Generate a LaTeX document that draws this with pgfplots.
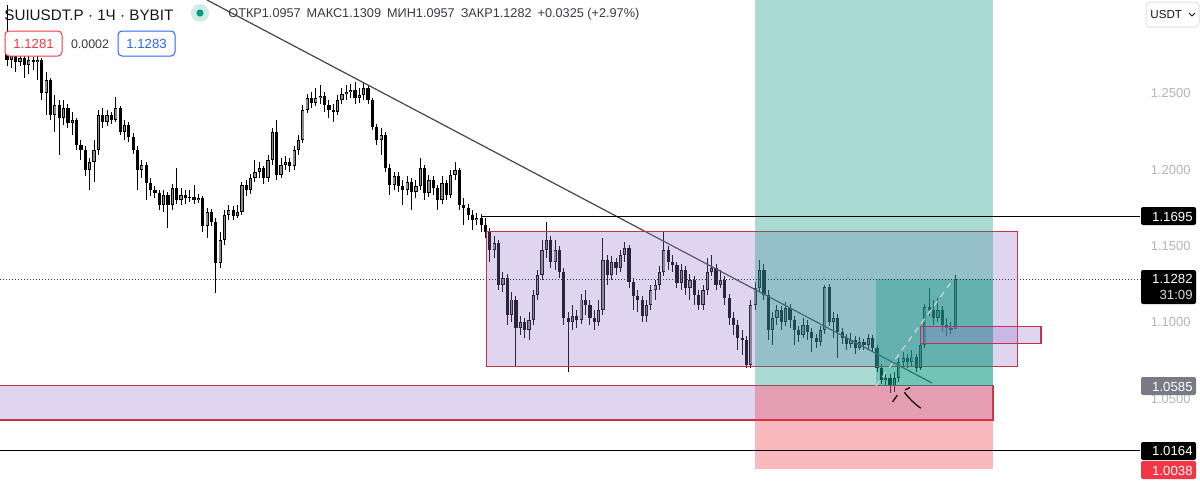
\documentclass[border=0pt]{standalone}
\usepackage{fontspec}
\setmainfont{Liberation Sans}
\usepackage{pgfplots}
\usepackage{pgfplotstable}
\pgfplotsset{compat=1.18}
\definecolor{tvgreen}{RGB}{8,153,129}
\definecolor{tvred}{RGB}{242,54,69}
\definecolor{tvblue}{RGB}{41,98,255}
\definecolor{boxpurple}{RGB}{149,117,205}
\definecolor{boxborder}{RGB}{200,50,70}
\definecolor{tvdark}{RGB}{19,23,34}
\definecolor{tvtext}{RGB}{54,58,69}
\definecolor{tvaxis}{RGB}{178,181,190}
\definecolor{tvgrey}{RGB}{120,123,134}
\definecolor{upgrey}{RGB}{140,140,140}
\definecolor{trend}{RGB}{70,70,70}

\pgfplotstableread{
i o h l c
0 1.2817 1.3078 1.2679 1.2718
1 1.2718 1.2817 1.2666 1.2751
2 1.2751 1.2784 1.2640 1.2705
3 1.2705 1.2771 1.2679 1.2731
4 1.2731 1.2758 1.2601 1.2686
5 1.2686 1.2745 1.2627 1.2718
6 1.2718 1.2738 1.2653 1.2705
7 1.2705 1.2745 1.2587 1.2718
8 1.2718 1.2731 1.2457 1.2502
9 1.2502 1.2640 1.2358 1.2587
10 1.2587 1.2601 1.2326 1.2358
11 1.2358 1.2489 1.2247 1.2424
12 1.2424 1.2457 1.2097 1.2339
13 1.2339 1.2457 1.2293 1.2404
14 1.2404 1.2430 1.2273 1.2306
15 1.2306 1.2378 1.2228 1.2326
16 1.2326 1.2339 1.2129 1.2162
17 1.2162 1.2195 1.2064 1.2129
18 1.2129 1.2156 1.1959 1.1998
19 1.1998 1.2077 1.1868 1.2051
20 1.2051 1.2195 1.1920 1.2129
21 1.2129 1.2391 1.2097 1.2358
22 1.2358 1.2404 1.2273 1.2313
23 1.2313 1.2391 1.2286 1.2358
24 1.2358 1.2378 1.2300 1.2326
25 1.2326 1.2476 1.2313 1.2404
26 1.2404 1.2417 1.2228 1.2247
27 1.2247 1.2326 1.2195 1.2293
28 1.2293 1.2313 1.2182 1.2214
29 1.2214 1.2241 1.2103 1.2129
30 1.2129 1.2156 1.1868 1.1998
31 1.1998 1.2064 1.1946 1.2031
32 1.2031 1.2051 1.1802 1.1913
33 1.1913 1.1946 1.1828 1.1868
34 1.1868 1.1894 1.1815 1.1848
35 1.1848 1.1868 1.1737 1.1769
36 1.1769 1.1868 1.1724 1.1835
37 1.1835 1.1854 1.1619 1.1769
38 1.1769 1.1907 1.1737 1.1881
39 1.1881 1.2012 1.1776 1.1802
40 1.1802 1.1881 1.1769 1.1835
41 1.1835 1.1868 1.1776 1.1815
42 1.1815 1.1868 1.1789 1.1822
43 1.1822 1.1900 1.1776 1.1802
44 1.1802 1.1841 1.1783 1.1815
45 1.1815 1.1828 1.1593 1.1632
46 1.1632 1.1750 1.1553 1.1724
47 1.1724 1.1743 1.1632 1.1658
48 1.1658 1.1684 1.1193 1.1390
49 1.1390 1.1593 1.1357 1.1540
50 1.1540 1.1737 1.1508 1.1704
51 1.1704 1.1769 1.1671 1.1737
52 1.1737 1.1763 1.1671 1.1697
53 1.1697 1.1769 1.1684 1.1724
54 1.1724 1.1920 1.1704 1.1900
55 1.1900 1.1933 1.1828 1.1868
56 1.1868 1.1972 1.1841 1.1946
57 1.1946 1.2064 1.1920 1.1985
58 1.1985 1.2051 1.1946 1.2012
59 1.2012 1.2025 1.1907 1.1946
60 1.1946 1.2097 1.1920 1.2064
61 1.2064 1.2273 1.2031 1.2247
62 1.2247 1.2326 1.1933 1.1966
63 1.1966 1.2077 1.1946 1.2031
64 1.2031 1.2090 1.1998 1.2051
65 1.2051 1.2077 1.1985 1.2025
66 1.2025 1.2156 1.1998 1.2129
67 1.2129 1.2228 1.2097 1.2195
68 1.2195 1.2424 1.2175 1.2391
69 1.2391 1.2496 1.2372 1.2470
70 1.2470 1.2509 1.2404 1.2437
71 1.2437 1.2535 1.2417 1.2470
72 1.2470 1.2555 1.2430 1.2483
73 1.2483 1.2509 1.2378 1.2424
74 1.2424 1.2457 1.2339 1.2391
75 1.2391 1.2430 1.2313 1.2378
76 1.2378 1.2489 1.2358 1.2457
77 1.2457 1.2535 1.2430 1.2496
78 1.2496 1.2555 1.2457 1.2509
79 1.2509 1.2561 1.2470 1.2522
80 1.2522 1.2574 1.2430 1.2470
81 1.2470 1.2535 1.2437 1.2489
82 1.2489 1.2568 1.2457 1.2535
83 1.2535 1.2548 1.2430 1.2457
84 1.2457 1.2470 1.2260 1.2280
85 1.2280 1.2300 1.2162 1.2195
86 1.2195 1.2273 1.2097 1.2228
87 1.2228 1.2247 1.1985 1.2012
88 1.2012 1.2038 1.1835 1.1900
89 1.1900 1.1985 1.1868 1.1959
90 1.1959 1.1985 1.1854 1.1894
91 1.1894 1.1933 1.1769 1.1868
92 1.1868 1.1959 1.1835 1.1920
93 1.1920 1.1946 1.1737 1.1854
94 1.1854 1.1933 1.1815 1.1894
95 1.1894 1.2077 1.1868 1.2012
96 1.2012 1.2031 1.1802 1.1848
97 1.1848 1.1966 1.1822 1.1933
98 1.1933 1.1959 1.1835 1.1881
99 1.1881 1.1900 1.1737 1.1802
100 1.1802 1.1959 1.1776 1.1913
101 1.1913 1.1933 1.1802 1.1835
102 1.1835 1.1998 1.1815 1.1966
103 1.1966 1.2051 1.1933 1.1998
104 1.1998 1.2012 1.1737 1.1769
105 1.1769 1.1815 1.1638 1.1750
106 1.1750 1.1776 1.1671 1.1704
107 1.1704 1.1737 1.1606 1.1671
108 1.1671 1.1717 1.1638 1.1684
109 1.1684 1.1710 1.1593 1.1638
110 1.1638 1.1684 1.1553 1.1593
111 1.1593 1.1619 1.1396 1.1475
112 1.1475 1.1567 1.1423 1.1521
113 1.1521 1.1540 1.1213 1.1246
114 1.1246 1.1331 1.1200 1.1292
115 1.1292 1.1318 1.0984 1.1049
116 1.1049 1.1200 1.1004 1.1148
117 1.1148 1.1174 1.0709 1.0964
118 1.0964 1.1043 1.0919 1.1004
119 1.1004 1.1030 1.0899 1.0951
120 1.0951 1.1069 1.0886 1.1017
121 1.1017 1.1213 1.0984 1.1180
122 1.1180 1.1344 1.1148 1.1311
123 1.1311 1.1540 1.1278 1.1475
124 1.1475 1.1658 1.1423 1.1540
125 1.1540 1.1567 1.1357 1.1396
126 1.1396 1.1540 1.1344 1.1475
127 1.1475 1.1501 1.1292 1.1331
128 1.1331 1.1357 1.0984 1.1030
129 1.1030 1.1069 1.0676 1.1004
130 1.1004 1.1115 1.0951 1.1043
131 1.1043 1.1082 1.0964 1.1017
132 1.1017 1.1187 1.0991 1.1148
133 1.1148 1.1213 1.1049 1.1115
134 1.1115 1.1148 1.0984 1.1030
135 1.1030 1.1082 1.0951 1.1004
136 1.1004 1.1148 1.0977 1.1082
137 1.1082 1.1553 1.1049 1.1409
138 1.1409 1.1442 1.1246 1.1311
139 1.1311 1.1436 1.1278 1.1396
140 1.1396 1.1423 1.1311 1.1357
141 1.1357 1.1475 1.1331 1.1442
142 1.1442 1.1527 1.1396 1.1488
143 1.1488 1.1508 1.1226 1.1265
144 1.1265 1.1292 1.1082 1.1174
145 1.1174 1.1213 1.1069 1.1148
146 1.1148 1.1174 1.1004 1.1043
147 1.1043 1.1148 1.1004 1.1115
148 1.1115 1.1246 1.1082 1.1213
149 1.1213 1.1278 1.1148 1.1246
150 1.1246 1.1370 1.1213 1.1331
151 1.1331 1.1593 1.1305 1.1475
152 1.1475 1.1501 1.1344 1.1396
153 1.1396 1.1442 1.1331 1.1377
154 1.1377 1.1396 1.1226 1.1259
155 1.1259 1.1383 1.1213 1.1344
156 1.1344 1.1370 1.1180 1.1226
157 1.1226 1.1318 1.1148 1.1278
158 1.1278 1.1305 1.1115 1.1180
159 1.1180 1.1213 1.1082 1.1115
160 1.1115 1.1246 1.1082 1.1213
161 1.1213 1.1423 1.1180 1.1331
162 1.1331 1.1442 1.1305 1.1357
163 1.1357 1.1383 1.1213 1.1246
164 1.1246 1.1344 1.1226 1.1278
165 1.1278 1.1305 1.1115 1.1161
166 1.1161 1.1187 1.0984 1.1030
167 1.1030 1.1069 1.0919 1.0984
168 1.0984 1.1017 1.0820 1.0899
169 1.0899 1.0951 1.0788 1.0886
170 1.0886 1.0912 1.0703 1.0722
171 1.0722 1.1148 1.0703 1.1115
172 1.1115 1.1265 1.1082 1.1226
173 1.1226 1.1409 1.1200 1.1344
174 1.1344 1.1383 1.1148 1.1180
175 1.1180 1.1213 1.0886 1.0951
176 1.0951 1.1069 1.0853 1.1030
177 1.1030 1.1115 1.0984 1.1082
178 1.1082 1.1108 1.0951 1.1004
179 1.1004 1.1135 1.0977 1.1095
180 1.1095 1.1121 1.0964 1.1017
181 1.1017 1.1043 1.0853 1.0951
182 1.0951 1.0977 1.0873 1.0919
183 1.0919 1.1030 1.0899 1.0984
184 1.0984 1.1017 1.0886 1.0938
185 1.0938 1.0964 1.0807 1.0899
186 1.0899 1.0925 1.0834 1.0873
187 1.0873 1.0977 1.0847 1.0951
188 1.0951 1.1246 1.0925 1.1233
189 1.1233 1.1252 1.0977 1.1004
190 1.1004 1.1069 1.0899 1.1030
191 1.1030 1.1056 1.0768 1.0938
192 1.0938 1.0964 1.0860 1.0899
193 1.0899 1.0925 1.0820 1.0860
194 1.0860 1.0932 1.0834 1.0886
195 1.0886 1.0912 1.0794 1.0834
196 1.0834 1.0906 1.0820 1.0873
197 1.0873 1.0892 1.0820 1.0853
198 1.0853 1.0925 1.0820 1.0899
199 1.0899 1.0919 1.0807 1.0834
200 1.0834 1.0853 1.0676 1.0703
201 1.0703 1.0729 1.0598 1.0624
202 1.0624 1.0676 1.0591 1.0637
203 1.0637 1.0663 1.0539 1.0585
204 1.0585 1.0676 1.0546 1.0637
205 1.0637 1.0768 1.0611 1.0742
206 1.0742 1.0807 1.0716 1.0768
207 1.0768 1.0794 1.0703 1.0742
208 1.0742 1.0820 1.0716 1.0775
209 1.0775 1.0794 1.0676 1.0703
210 1.0703 1.0886 1.0689 1.0853
211 1.0853 1.1121 1.0834 1.1102
212 1.1102 1.1226 1.1043 1.1082
213 1.1082 1.1148 1.0984 1.1030
214 1.1030 1.1161 1.1004 1.1082
215 1.1082 1.1108 1.0938 1.0984
216 1.0984 1.1030 1.0912 1.0964
217 1.0964 1.1004 1.0925 1.0957
218 1.0957 1.1309 1.0957 1.1282
}\candles

\begin{document}
\begin{tikzpicture}
\begin{axis}[
  at={(0,0)}, anchor=south west,
  scale only axis, width=600pt, height=250pt,
  xmin=-1.6092, xmax=274.25, ymin=0.9838, ymax=1.3111,
  axis line style={draw=none},
  xtick=\empty,
  ytick={1.05,1.1,1.15,1.2,1.25},
  yticklabels={1.0500,1.1000,1.1500,1.2000,1.2500},
  yticklabel pos=right,
  major tick length=0pt,
  yticklabel style={anchor=east, inner sep=0pt, xshift=-4.5pt,
    font=\fontsize{6.5}{7.8}\selectfont, text=tvaxis},
  clip=true,
]
% wicks
\addplot[draw=none, mark=none,
  error bars/.cd, y dir=both, y explicit, error mark=none,
  error bar style={draw=black, line width=0.5pt}]
  table[x=i, y expr={(\thisrow{h}+\thisrow{l})/2},
        y error expr={(\thisrow{h}-\thisrow{l})/2}] {\candles};
% down bodies
\addplot[draw=none, mark=none,
  restrict expr to domain={\thisrow{c}-\thisrow{o}}{-1:-0.00001},
  error bars/.cd, y dir=both, y explicit, error mark=none,
  error bar style={draw=black, line width=1.6pt}]
  table[x=i, y expr={(\thisrow{o}+\thisrow{c})/2},
        y error expr={max(abs(\thisrow{c}-\thisrow{o})/2,0.0003)}] {\candles};
% up bodies: outline
\addplot[draw=none, mark=none,
  restrict expr to domain={\thisrow{c}-\thisrow{o}}{0:1},
  error bars/.cd, y dir=both, y explicit, error mark=none,
  error bar style={draw=black, line width=1.6pt}]
  table[x=i, y expr={(\thisrow{o}+\thisrow{c})/2},
        y error expr={max(abs(\thisrow{c}-\thisrow{o})/2,0.0003)}] {\candles};
% up bodies: grey fill
\addplot[draw=none, mark=none,
  restrict expr to domain={\thisrow{c}-\thisrow{o}}{0:1},
  error bars/.cd, y dir=both, y explicit, error mark=none,
  error bar style={draw=upgrey, line width=0.75pt}]
  table[x=i, y expr={(\thisrow{o}+\thisrow{c})/2},
        y error expr={max(abs(\thisrow{c}-\thisrow{o})/2-0.0004,0)}] {\candles};

% trend line
\draw[trend, line width=0.6pt] (axis cs:45.98,1.3111) -- (axis cs:212.64,1.0604);
% range boxes
\filldraw[fill=boxpurple, fill opacity=0.3, draw=boxborder, line width=0.55pt]
  (axis cs:110.3,1.1593) rectangle (axis cs:232.2,1.0709);
\filldraw[fill=boxpurple, fill opacity=0.3, draw=boxborder, line width=0.55pt]
  (axis cs:-3,1.0585) rectangle (axis cs:226.67,1.0362);
% long position tool
\fill[tvgreen, fill opacity=0.35] (axis cs:171.95,1.0585) rectangle (axis cs:226.67,1.34);
\fill[tvred, fill opacity=0.35] (axis cs:171.95,1.0585) rectangle (axis cs:226.67,1.0038);
\fill[tvgreen, fill opacity=0.35] (axis cs:199.77,1.0585) rectangle (axis cs:226.67,1.1282);
\draw[white!65!gray, line width=0.6pt, dash pattern=on 3pt off 2.5pt]
  (axis cs:199.77,1.0585) -- (axis cs:217.5,1.1282);
% small box
\filldraw[fill=boxpurple, fill opacity=0.3, draw=boxborder, line width=0.55pt]
  (axis cs:209.9,1.0971) rectangle (axis cs:237.7,1.0860);
% horizontal levels
\draw[black, line width=0.6pt] (axis cs:109.2,1.1695) -- (axis cs:260.5,1.1695);
\draw[black, line width=0.6pt] (axis cs:-3,1.0164) -- (axis cs:260.5,1.0164);
\draw[tvtext, line width=0.5pt, dash pattern=on 0.5pt off 1pt] (axis cs:-3,1.1282) -- (axis cs:260.5,1.1282);
% hand-drawn marks
\draw[black, line width=0.6pt] (axis cs:203.56,1.0480) -- (axis cs:204.67,1.0524);
\draw[black, line width=0.6pt] (axis cs:206.44,1.0559) -- (axis cs:207.59,1.0574);
\draw[black, line width=0.6pt] (axis cs:206.28,1.0544) to[bend right=8] (axis cs:210.05,1.0439);
\end{axis}

\begin{scope}[x=0.5pt, y=-0.5pt, shift={(0pt,250pt)}]
  % header
  \node[anchor=west, inner sep=0pt, text=tvdark, font=\fontsize{7.6}{9}\selectfont] at (4,15) {SUIUSDT.P · 1Ч · BYBIT};
  \fill[tvgreen!20] (200,13) circle (4.5pt);
  \fill[tvgreen] (200,13) circle (1.8pt);
  \node[anchor=west, inner sep=0pt, text=tvtext, font=\fontsize{6.35}{8}\selectfont] at (228,14)
    {ОТКР1.0957\hspace{3pt}МАКС1.1309\hspace{3pt}МИН1.0957\hspace{3pt}ЗАКР1.1282\hspace{3pt}+0.0325 (+2.97\%)};
  % bid / ask boxes
  \filldraw[fill=white, draw=tvred, line width=0.5pt, rounded corners=2pt] (5,31) rectangle (62,56);
  \node[text=tvred, font=\fontsize{6.6}{8}\selectfont, inner sep=0pt] at (33.5,44) {1.1281};
  \node[text=tvtext, font=\fontsize{6.2}{8}\selectfont, inner sep=0pt] at (90,44) {0.0002};
  \filldraw[fill=white, draw=tvblue, line width=0.5pt, rounded corners=2pt] (118,31) rectangle (175,56);
  \node[text=tvblue, font=\fontsize{6.6}{8}\selectfont, inner sep=0pt] at (146.5,44) {1.1283};
  % currency selector
  \filldraw[fill=white, draw=gray!25, line width=0.5pt, rounded corners=2pt] (1146,2) rectangle (1199,27);
  \node[anchor=west, text=tvdark, font=\fontsize{5.8}{7}\selectfont, inner sep=0pt] at (1150,15) {USDT};
  \draw[tvdark, line width=0.5pt] (1189,13) -- (1192,16) -- (1195,13);
  % price labels
  \fill[black, rounded corners=1pt] (1141,207) rectangle (1196,225);
  \node[anchor=east, text=white, font=\fontsize{6.6}{8}\selectfont, inner sep=0pt] at (1193,216.5) {1.1695};
  \fill[black, rounded corners=1pt] (1141,270) rectangle (1196,304);
  \node[anchor=east, text=white, font=\fontsize{6.6}{8}\selectfont, inner sep=0pt] at (1193,279) {1.1282};
  \node[anchor=east, text=white!85!black, font=\fontsize{6.6}{8}\selectfont, inner sep=0pt] at (1193,295) {31:09};
  \fill[tvgrey, rounded corners=1pt] (1141,377) rectangle (1196,395);
  \node[anchor=east, text=white, font=\fontsize{6.6}{8}\selectfont, inner sep=0pt] at (1193,386.5) {1.0585};
  \fill[black, rounded corners=1pt] (1141,442) rectangle (1196,460);
  \node[anchor=east, text=white, font=\fontsize{6.6}{8}\selectfont, inner sep=0pt] at (1193,451) {1.0164};
  \fill[tvred, rounded corners=1pt] (1141,461) rectangle (1196,479);
  \node[anchor=east, text=white, font=\fontsize{6.6}{8}\selectfont, inner sep=0pt] at (1193,470.5) {1.0038};
\end{scope}
\pgfresetboundingbox
\useasboundingbox (0,0) rectangle (600pt,250pt);
\end{tikzpicture}
\end{document}
